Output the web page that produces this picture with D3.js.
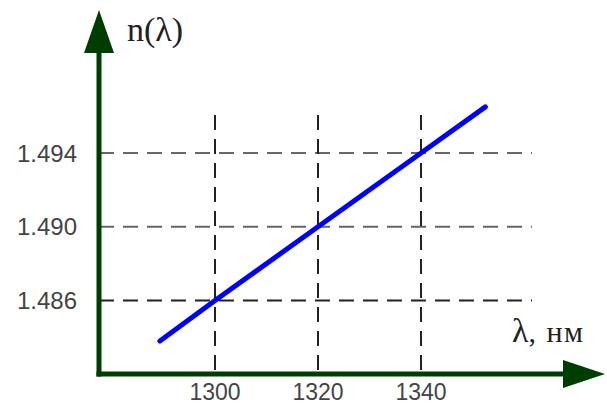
<!DOCTYPE html>
<html>
<head>
<meta charset="utf-8">
<script src="https://cdn.jsdelivr.net/npm/d3@7"></script>
<style>
html,body{margin:0;padding:0;background:#fff;}
svg{display:block;}
</style>
</head>
<body>
<svg id="chart" width="607" height="405"></svg>
<script>
// Data
const xTicks = [1300, 1320, 1340];
const yTicks = [1.486, 1.490, 1.494];
const yTickLabels = ["1.486", "1.490", "1.494"];
const lambda = [1289.3, 1300, 1320, 1340, 1352.5];
const nValues = [1.4838, 1.486, 1.490, 1.494, 1.4965];
const yLabel = "n(λ)";
const xLabelSymbol = "λ";
const xLabelUnit = ", нм";

const svg = d3.select("#chart");
const axisColor = "#003d00";

// Layout
const originX = 99, originY = 374;
const gridTop = 115, gridRight = 532;

const x = d3.scaleLinear().domain([1300, 1340]).range([215, 421]);
const y = d3.scaleLinear().domain([1.486, 1.494]).range([300.5, 153]);

// horizontal gridlines
svg.append("g").selectAll("line").data(yTicks).join("line")
  .attr("x1", originX).attr("x2", gridRight)
  .attr("y1", d => y(d)).attr("y2", d => y(d))
  .attr("stroke", (d, i) => i === 0 ? "#222" : "#666")
  .attr("stroke-width", 2)
  .attr("stroke-dasharray", "15,9");

// vertical gridlines
svg.append("g").selectAll("line").data(xTicks).join("line")
  .attr("x1", d => x(d)).attr("x2", d => x(d))
  .attr("y1", gridTop).attr("y2", originY)
  .attr("stroke", "#222")
  .attr("stroke-width", 2)
  .attr("stroke-dasharray", "15,9");

// data line
const pts = lambda.map((l, i) => [l, nValues[i]]);
svg.append("path")
  .datum(pts)
  .attr("d", d3.line().x(d => x(d[0])).y(d => y(d[1])))
  .attr("fill", "none")
  .attr("stroke", "#0000ff")
  .attr("stroke-width", 5)
  .attr("stroke-linecap", "round");

// axes
svg.append("line")
  .attr("x1", originX).attr("x2", originX)
  .attr("y1", originY + 2.5).attr("y2", 50)
  .attr("stroke", axisColor).attr("stroke-width", 5);
svg.append("polygon")
  .attr("points", `${originX},10 ${originX - 15},53 ${originX + 15},53`)
  .attr("fill", axisColor);
svg.append("line")
  .attr("x1", originX - 2.5).attr("x2", 565)
  .attr("y1", originY).attr("y2", originY)
  .attr("stroke", axisColor).attr("stroke-width", 5);
svg.append("polygon")
  .attr("points", `605,${originY} 563,${originY - 14} 563,${originY + 14}`)
  .attr("fill", axisColor);

// tick labels
svg.append("g").selectAll("text").data(yTicks).join("text")
  .attr("x", 77).attr("y", d => y(d))
  .attr("dy", "0.36em")
  .attr("text-anchor", "end")
  .attr("font-family", "'Liberation Sans', Arial, sans-serif")
  .attr("font-size", 24)
  .attr("fill", "#444")
  .text((d, i) => yTickLabels[i]);

svg.append("g").selectAll("text").data(xTicks).join("text")
  .attr("x", d => x(d)).attr("y", 400)
  .attr("text-anchor", "middle")
  .attr("font-family", "'Liberation Sans', Arial, sans-serif")
  .attr("font-size", 23)
  .attr("fill", "#444")
  .text(d => d);

// axis titles
svg.append("text")
  .attr("x", 127).attr("y", 41)
  .attr("font-family", "'Liberation Serif', 'Times New Roman', serif")
  .attr("font-size", 34)
  .attr("fill", "#222")
  .text(yLabel);

const xl = svg.append("text")
  .attr("x", 512).attr("y", 342)
  .attr("font-family", "'Liberation Serif', 'Times New Roman', serif")
  .attr("fill", "#222");
xl.append("tspan").attr("font-size", 34).text(xLabelSymbol);
xl.append("tspan").attr("font-size", 30).attr("letter-spacing", 1.5).text(xLabelUnit);
</script>
</body>
</html>
